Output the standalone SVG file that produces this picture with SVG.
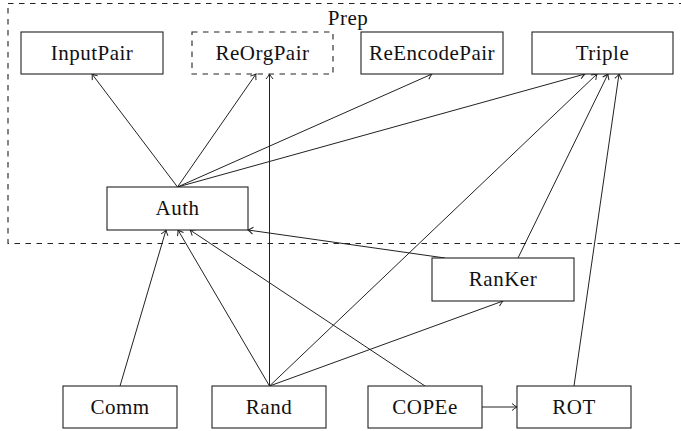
<svg xmlns="http://www.w3.org/2000/svg" width="681" height="431" viewBox="0 0 681 431">
<style>
.box{fill:#fff;stroke:#222;stroke-width:1.1}
.dash{fill:none;stroke:#222;stroke-width:1.1;stroke-dasharray:5.5 5.5}
.e{fill:none;stroke:#222;stroke-width:1;marker-end:url(#arr)}
</style>
<defs>
<marker id="arr" markerUnits="userSpaceOnUse" markerWidth="12" markerHeight="12" viewBox="-6 -6 12 12" refX="0" refY="0" orient="auto">
<path d="M -5 -3.5 Q -1.8 -0.8 0 0 Q -1.8 0.8 -5 3.5" fill="none" stroke="#222" stroke-width="1"/>
</marker>
</defs>
<rect width="681" height="431" fill="#fff"/>
<g id="prep">
<rect class="dash" x="8" y="3.5" width="700" height="240"/>
</g>
<g id="connectors">
<line class="e" x1="177.5" y1="187" x2="92" y2="74"/>
<line class="e" x1="177.5" y1="187" x2="256" y2="74"/>
<line class="e" x1="177.5" y1="187" x2="432" y2="74"/>
<line class="e" x1="177.5" y1="187" x2="585" y2="74"/>
<line class="e" x1="269.5" y1="386" x2="269.5" y2="74"/>
<line class="e" x1="269.5" y1="386" x2="597" y2="74"/>
<line class="e" x1="518" y1="258" x2="608" y2="74"/>
<line class="e" x1="574" y1="386" x2="619" y2="74"/>
<line class="e" x1="120" y1="386" x2="166" y2="230"/>
<line class="e" x1="269.5" y1="386" x2="178" y2="230"/>
<line class="e" x1="425" y1="386" x2="190" y2="230"/>
<line class="e" x1="445" y1="258" x2="248" y2="230"/>
<line class="e" x1="269.5" y1="386" x2="503" y2="301"/>
<line class="e" x1="482" y1="407" x2="517" y2="407"/>
</g>
<g id="InputPair"><rect class="box" x="21" y="32" width="142" height="42"/></g>
<g id="ReOrgPair"><rect class="dash" x="192" y="32" width="141" height="42"/></g>
<g id="ReEncodePair"><rect class="box" x="361" y="32" width="142" height="42"/></g>
<g id="Triple"><rect class="box" x="532" y="32" width="141" height="42"/></g>
<g id="Auth"><rect class="box" x="107" y="187" width="141" height="43"/></g>
<g id="RanKer"><rect class="box" x="432" y="258" width="142" height="43"/></g>
<g id="Comm"><rect class="box" x="63" y="386" width="114" height="42"/></g>
<g id="Rand"><rect class="box" x="212" y="386" width="114" height="42"/></g>
<g id="COPEe"><rect class="box" x="368" y="386" width="114" height="42"/></g>
<g id="ROT"><rect class="box" x="517" y="386" width="114" height="42"/></g>
<g id="labels" font-family="Liberation Serif, serif" font-size="21" letter-spacing="0.5" fill="#111" text-anchor="middle">
<text x="348" y="25">Prep</text>
<text x="92" y="60">InputPair</text>
<text x="262.5" y="60">ReOrgPair</text>
<text x="432" y="60">ReEncodePair</text>
<text x="602.5" y="60">Triple</text>
<text x="177.5" y="215">Auth</text>
<text x="503" y="286">RanKer</text>
<text x="120" y="414">Comm</text>
<text x="269" y="414">Rand</text>
<text x="425" y="414">COPEe</text>
<text x="574" y="414">ROT</text>
</g>
</svg>
